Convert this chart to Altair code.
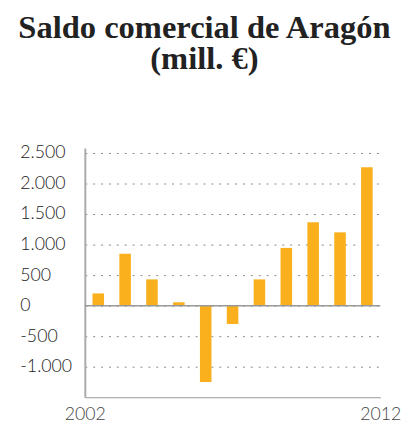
import altair as alt
import pandas as pd

years = [2002, 2003, 2004, 2005, 2006, 2007, 2008, 2009, 2010, 2011, 2012]
values = [200, 850, 430, 55, -1250, -300, 430, 945, 1365, 1200, 2265]
y_ticks = [-1000, -500, 0, 500, 1000, 1500, 2000, 2500]
x_labels = [2002, 2012]
title_lines = ["Saldo comercial de Aragón", "(mill. €)"]

df = pd.DataFrame({"year": [str(y) for y in years], "value": values})

label_expr = "(datum.value < 0 ? '-' : '') + replace(format(abs(datum.value), ','), ',', '.')"

y_scale = alt.Scale(domain=[-1500, 2580], nice=False, zero=False)
y_axis = alt.Axis(values=y_ticks, labelExpr=label_expr, grid=True,
                  gridDash=[2, 6], gridColor="#888", gridWidth=1,
                  ticks=False, domain=True, domainColor="#aaa",
                  domainWidth=2, labelAlign="left", labelPadding=66,
                  labelOverlap=False,
                  labelFont="Lato", labelFontWeight=300,
                  labelFontSize=18, labelColor="#222",
                  labelBaseline="middle", title=None)

bars = alt.Chart(df).mark_bar(color="#F9B01C").encode(
    x=alt.X("year:O", axis=None,
            scale=alt.Scale(paddingInner=0.57, paddingOuter=0.285)),
    y=alt.Y("value:Q", scale=y_scale, axis=y_axis),
)

zero = alt.Chart(pd.DataFrame({"value": [0]})).mark_rule(
    color="#999", strokeWidth=1.5
).encode(y=alt.Y("value:Q", scale=y_scale, axis=y_axis))

xaxis = alt.Chart(pd.DataFrame({"year": x_labels})).mark_point(opacity=0).encode(
    x=alt.X("year:Q", scale=alt.Scale(domain=[2002, 2012], nice=False, zero=False),
            axis=alt.Axis(values=x_labels, format="d", ticks=False, grid=False,
                          domainColor="#999", domainWidth=1, labelFlush=False,
                          labelOverlap=False,
                          labelFont="Lato", labelFontWeight=300, labelFontSize=18,
                          labelColor="#444", labelPadding=9, title=None)),
    y=alt.value(0),
)

chart = alt.layer(bars, zero, xaxis).resolve_scale(x="independent").properties(
    width=300,
    height=253,
    padding={"left": 9, "top": 0, "right": 0, "bottom": 0},
    title=alt.TitleParams(title_lines, font="Liberation Serif", fontSize=33,
                          fontWeight="bold", color="#222", anchor="middle",
                          frame="bounds", lineHeight=32, offset=69, dx=-6),
).configure_view(stroke=None)

chart.save("out.html", embed_options={"renderer": "svg", "actions": False})
